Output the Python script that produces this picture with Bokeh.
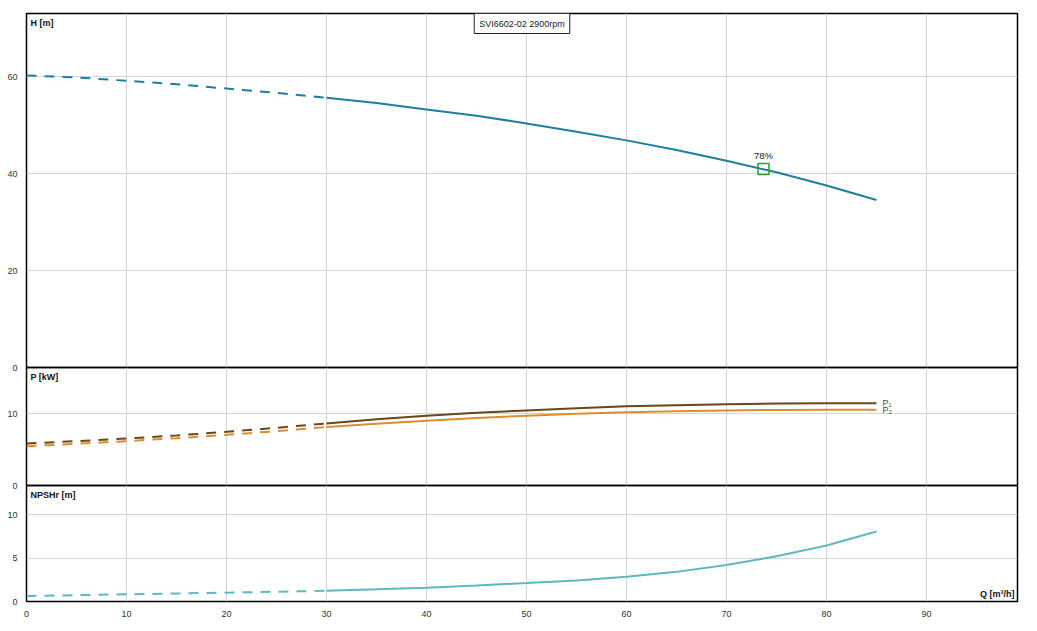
from bokeh.plotting import figure
from bokeh.layouts import column
from bokeh.models import Range1d, FixedTicker, LinearAxis, Grid, Label
from bokeh.embed import file_html
from bokeh.resources import INLINE

# ---------------- data ----------------
TITLE = "SVI6602-02 2900rpm"
Q = [0, 5, 10, 15, 20, 25, 30, 35, 40, 45, 50, 55, 60, 65, 70, 75, 80, 85]
H = [60.3, 59.9, 59.2, 58.5, 57.6, 56.7, 55.7, 54.6, 53.3, 52.0, 50.4, 48.7,
     46.9, 44.9, 42.7, 40.3, 37.6, 34.6]
P1 = [5.86, 6.2, 6.56, 7.0, 7.5, 8.07, 8.68, 9.25, 9.76, 10.17, 10.5, 10.8,
      11.07, 11.23, 11.35, 11.45, 11.5, 11.49]
P2 = [5.49, 5.83, 6.2, 6.62, 7.08, 7.6, 8.17, 8.65, 9.06, 9.45, 9.76, 10.02,
      10.23, 10.38, 10.5, 10.56, 10.6, 10.6]
NPSH = [0.64, 0.73, 0.83, 0.92, 1.02, 1.12, 1.24, 1.4, 1.59, 1.84, 2.13, 2.43,
        2.84, 3.41, 4.2, 5.2, 6.45, 8.05]
Q_DASH_END = 30
BEP_Q = [73.7]
BEP_H = [41.0]
BEP_TEXT = "78%"
X_TICKS = [0, 10, 20, 30, 40, 50, 60, 70, 80, 90]
H_TICKS = [0, 20, 40, 60]
P_TICKS = [0, 10]
N_TICKS = [0, 5, 10]
P_LABELS = ["P₁", "P₂"]

# ---------------- style ----------------
FONT = "Liberation Sans"
GRID = "#d4d4d4"
C_H = "#1b7fa0"
C_P1 = "#6a4619"
C_P2 = "#df8c2e"
C_N = "#5cb9c0"
DASH = "10 8"
LEFT = 26
RIGHT = 12
FRAME_W = 991
W = LEFT + FRAME_W + RIGHT
XMAX = 99.1

xr = Range1d(0, XMAX)


def make_fig(ymax, height, top, bottom, margin, yticks):
    p = figure(width=W, height=height, x_range=xr, y_range=Range1d(0, ymax),
               output_backend="svg", toolbar_location=None,
               x_axis_location=None, y_axis_location=None,
               min_border_left=LEFT, min_border_right=RIGHT,
               min_border_top=top, min_border_bottom=bottom,
               outline_line_color="black", outline_line_width=1.5,
               background_fill_alpha=0, border_fill_alpha=0, margin=margin)
    p.center = [r for r in p.center if not isinstance(r, Grid)]
    ax = LinearAxis(ticker=FixedTicker(ticks=yticks))
    ax.axis_line_color = None
    ax.major_tick_line_color = None
    ax.minor_tick_line_color = None
    ax.major_label_standoff = 3
    ax.major_label_text_font = FONT
    ax.major_label_text_font_size = "9px"
    ax.major_label_text_color = "#333333"
    p.add_layout(ax, "left")
    p.add_layout(Grid(dimension=0, ticker=FixedTicker(ticks=X_TICKS[1:]),
                      grid_line_color=GRID, grid_line_width=1))
    p.add_layout(Grid(dimension=1, ticker=FixedTicker(ticks=yticks[1:]),
                      grid_line_color=GRID, grid_line_width=1))
    return p


def panel_label(p, text, ymax):
    p.add_layout(Label(x=0, y=ymax, x_offset=4, y_offset=-4, text=text,
                       text_baseline="top", text_align="left",
                       text_font=FONT, text_font_size="9px",
                       text_font_style="bold", text_color="#111111"))


def split(ys):
    n = Q.index(Q_DASH_END) + 1
    return (Q[:n], ys[:n]), (Q[n - 1:], ys[n - 1:])


# ---- H panel ----
H_MAX = 73.1
p1 = make_fig(H_MAX, 13 + 354 + 8, 13, 8, (0, 0, 0, 0), H_TICKS)
(dq, dh), (sq, sh) = split(H)
p1.line(dq, dh, line_color=C_H, line_width=2, line_dash=DASH)
p1.line(sq, sh, line_color=C_H, line_width=2)
p1.scatter(BEP_Q, BEP_H, marker="square", size=11, fill_color=None,
           line_color="#2a9d2a", line_width=1.5)
p1.add_layout(Label(x=BEP_Q[0], y=BEP_H[0], y_offset=8, text=BEP_TEXT,
                    text_align="center", text_baseline="bottom",
                    text_font=FONT, text_font_size="9.5px", text_color="#222222"))
panel_label(p1, "H [m]", H_MAX)
p1.add_layout(Label(x=XMAX / 2, y=H_MAX, y_offset=0, text=TITLE,
                    text_align="center", text_baseline="top",
                    text_font=FONT, text_font_size="9px", text_color="#222222",
                    background_fill_color="white",
                    border_line_color="#222222", border_line_width=1,
                    padding=5))

# ---- P panel ----
P_MAX = 16.5
p2 = make_fig(P_MAX, 8 + 118 + 8, 8, 8, (-16, 0, 0, 0), P_TICKS)
for ys, col in ((P1, C_P1), (P2, C_P2)):
    (dq, dy), (sq, sy) = split(ys)
    p2.line(dq, dy, line_color=col, line_width=2, line_dash=DASH)
    p2.line(sq, sy, line_color=col, line_width=2)
for ys, txt in ((P1, P_LABELS[0]), (P2, P_LABELS[1])):
    p2.add_layout(Label(x=Q[-1], y=ys[-1], x_offset=6, text=txt,
                        text_align="left", text_baseline="middle",
                        text_font=FONT, text_font_size="9px",
                        text_color="#444444"))
panel_label(p2, "P [kW]", P_MAX)

# ---- NPSH panel ----
N_MAX = 13.35
p3 = make_fig(N_MAX, 8 + 116 + 20, 8, 20, (-16, 0, 0, 0), N_TICKS)
(dq, dn), (sq, sn) = split(NPSH)
p3.line(dq, dn, line_color=C_N, line_width=2, line_dash=DASH)
p3.line(sq, sn, line_color=C_N, line_width=2)
xa = LinearAxis(ticker=FixedTicker(ticks=X_TICKS))
xa.axis_line_color = None
xa.major_tick_line_color = None
xa.minor_tick_line_color = None
xa.major_label_standoff = 3
xa.major_label_text_font = FONT
xa.major_label_text_font_size = "9px"
xa.major_label_text_color = "#333333"
p3.add_layout(xa, "below")
panel_label(p3, "NPSHr [m]", N_MAX)
p3.add_layout(Label(x=XMAX, y=0, x_offset=-3, y_offset=3, text="Q [m³/h]",
                    text_align="right", text_baseline="bottom",
                    text_font=FONT, text_font_size="9px",
                    text_font_style="bold", text_color="#111111"))

layout = column(p1, p2, p3, spacing=0)
open("out.html", "w").write(file_html(layout, INLINE))
